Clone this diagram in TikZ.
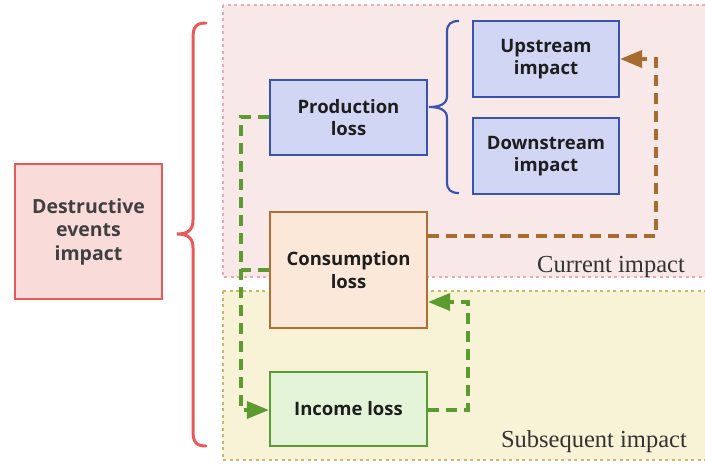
\documentclass[tikz,border=0pt]{standalone}
\usepackage{fontspec}
\setmainfont{Liberation Serif}
\newfontfamily\boxfont{Open Sans}
\usetikzlibrary{arrows.meta,calc}
\definecolor{curfill}{HTML}{F8E9E8}
\definecolor{curdot}{HTML}{F2A9AC}
\definecolor{subfill}{HTML}{F8F2D6}
\definecolor{subdot}{HTML}{C9B86A}
\definecolor{desfill}{HTML}{F9DBDA}
\definecolor{desline}{HTML}{E85A5A}
\definecolor{bluefill}{HTML}{D2D6F5}
\definecolor{blueline}{HTML}{3A52B0}
\definecolor{consfill}{HTML}{FBE8D9}
\definecolor{consline}{HTML}{B07035}
\definecolor{arrbrown}{HTML}{A86B30}
\definecolor{incfill}{HTML}{E3F4D9}
\definecolor{incline}{HTML}{5B9B35}
\definecolor{arrgreen}{HTML}{5B9B30}
\definecolor{txt}{HTML}{1E1E1E}
\tikzset{
  box/.style={draw, line width=2.2pt, align=center, text=txt,
    font=\boxfont\bfseries\fontsize{18.5}{22.5}\selectfont, inner sep=0pt},
  bluebox/.style={box, fill=bluefill, draw=blueline},
  region/.style={line width=1.6pt, dash pattern=on 3pt off 3.5pt},
  brownarr/.style={draw=arrbrown, line width=3.5pt, dash pattern=on 11pt off 7pt,
    -{Triangle[length=22pt,width=17pt]}},
  greenarr/.style={draw=arrgreen, line width=3.5pt, dash pattern=on 11pt off 7pt,
    -{Triangle[length=22pt,width=17pt]}},
  greenline/.style={draw=arrgreen, line width=3.5pt, dash pattern=on 11pt off 7pt},
  regionlabel/.style={font=\fontsize{24.5}{28}\selectfont, text=black!80, anchor=base east, inner sep=0pt}
}
\begin{document}
\begin{tikzpicture}[x=1pt,y=-1pt]
\useasboundingbox (0,0) rectangle (705,464);
\clip (0,0) rectangle (705,464);
% regions
\path[region, fill=curfill, draw=curdot] (223,5) rectangle (712,277);
\path[region, fill=subfill, draw=subdot] (223,291) rectangle (712,460);
\node[regionlabel] (curlab) at (685,272) {Current impact};
\node[regionlabel] (sublab) at (687,447) {Subsequent impact};
% nodes
\node[box, fill=desfill, draw=desline, text=black!75, font=\boxfont\bfseries\fontsize{19.5}{23.5}\selectfont, minimum width=147pt, minimum height=135pt] (des) at (88.5,231.5) {Destructive\\events\\impact};
\node[bluebox, minimum width=157pt, minimum height=75pt] (prod) at (348.5,117.5) {Production\\loss};
\node[bluebox, minimum width=146pt, minimum height=76pt] (up) at (546,59) {Upstream\\impact};
\node[bluebox, minimum width=146pt, minimum height=76pt] (down) at (546,156) {Downstream\\impact};
\node[box, fill=consfill, draw=consline, minimum width=157pt, minimum height=116pt] (cons) at (348.5,270) {Consumption\\loss};
\node[box, fill=incfill, draw=incline, minimum width=157pt, minimum height=74pt] (inc) at (348.5,409) {Income loss};
% braces
\draw[desline, line width=3pt, line cap=round]
  (206,23) .. controls (196,23) and (193,27) .. (193,38) -- (193,220)
  .. controls (193,230) and (188,234) .. (177,234)
  .. controls (188,234) and (193,238) .. (193,248) -- (193,431)
  .. controls (193,442) and (196,446) .. (206,446);
\draw[blueline, line width=2.2pt]
  (459,21) .. controls (451,21) and (447,24) .. (447,32) -- (447,96)
  .. controls (447,104) and (440,107) .. (429,107)
  .. controls (440,107) and (447,110) .. (447,118) -- (447,182)
  .. controls (447,190) and (451,193) .. (459,193);
% connectors
\coordinate (b1) at (656,236);
\draw[brownarr] (cons.east |- b1) -- (b1) -- (b1 |- up.east) -- (up.east);
\coordinate (g1) at (241,117);
\coordinate (g2) at (241,270);
\coordinate (g3) at (241,410);
\draw[greenarr] (prod.west |- g1) -- (g1) -- (g3) -- (inc.west |- g3);
\draw[greenline] (cons.west |- g2) -- (g2);
\coordinate (g4) at (468,410);
\coordinate (g5) at (468,302);
\draw[greenarr] (inc.east |- g4) -- (g4) -- (g5) -- (cons.east |- g5);
\end{tikzpicture}
\end{document}
